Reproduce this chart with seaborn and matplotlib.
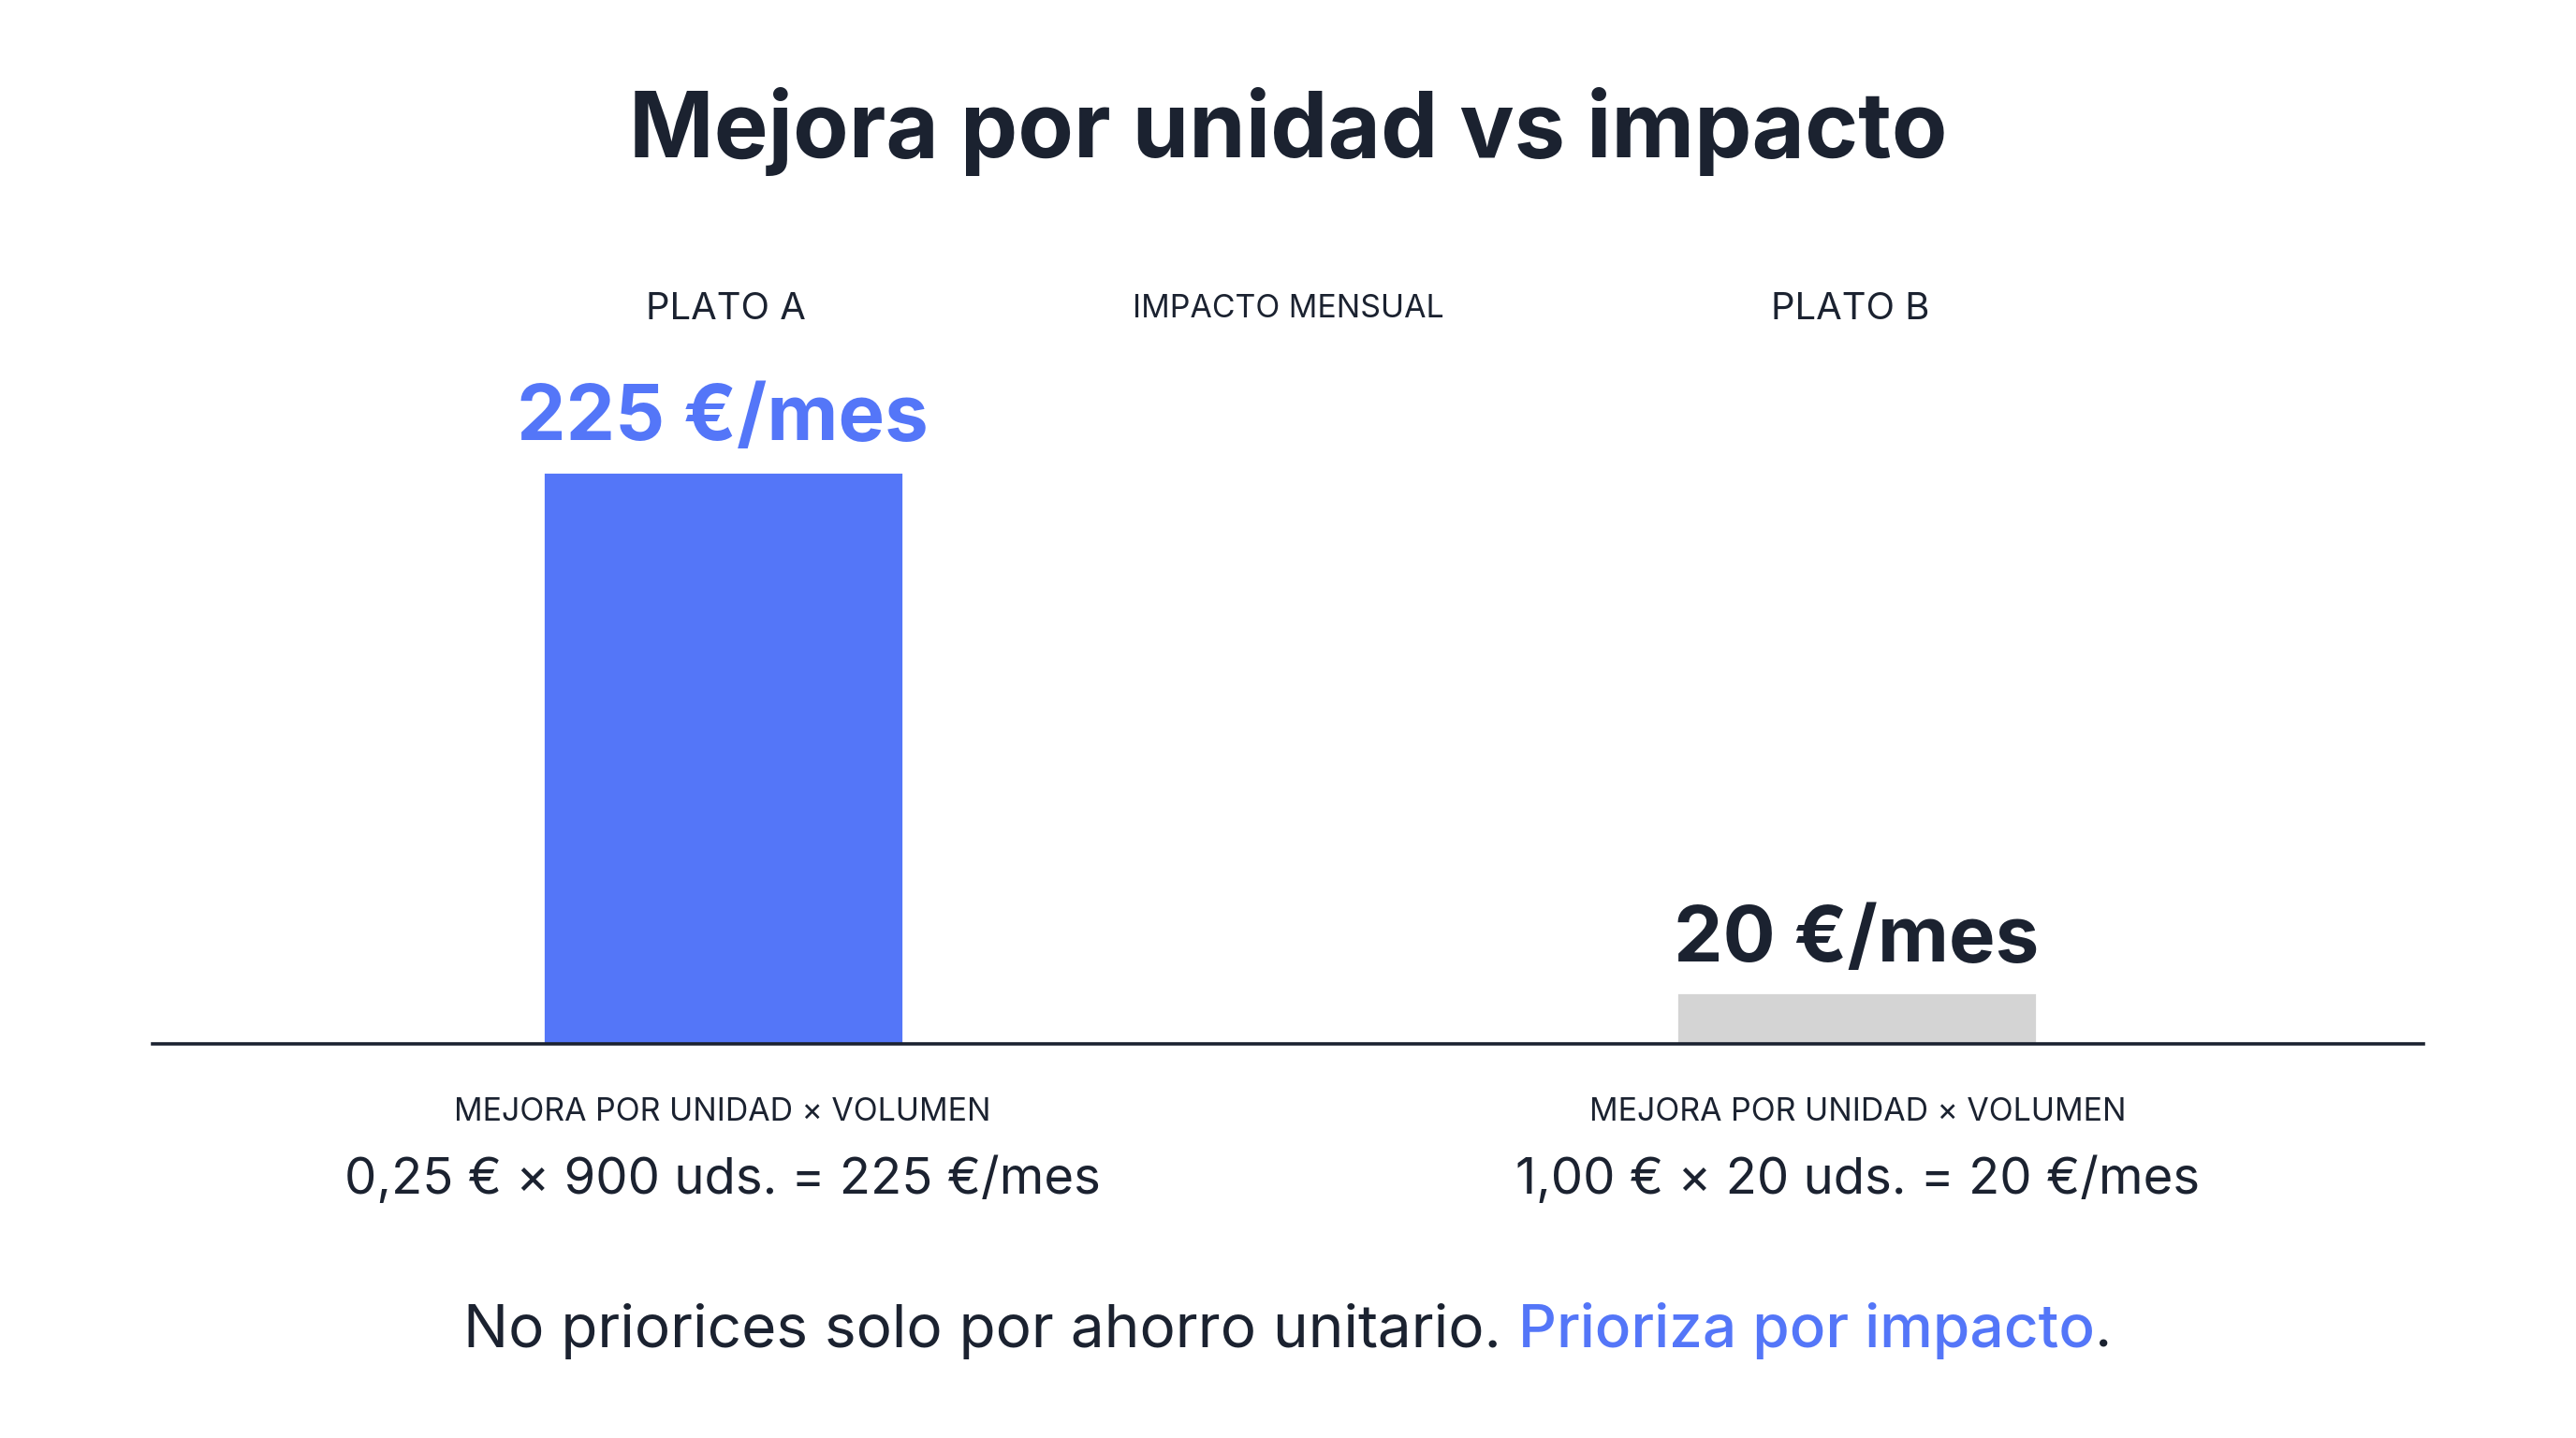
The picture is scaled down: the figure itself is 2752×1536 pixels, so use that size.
import matplotlib
matplotlib.use('Agg')
import matplotlib.pyplot as plt
import seaborn as sns
import pandas as pd

# datos
platos = ['PLATO A', 'PLATO B']
impacto = [225, 20]
mejora_unidad = ['0,25 €', '1,00 €']
volumen = ['900 uds.', '20 uds.']
etiquetas = ['225 €/mes', '20 €/mes']

AZUL = '#5476F8'
GRIS = '#D4D4D4'
OSCURO = '#1B2230'

sns.set_theme(style='white')
plt.rcParams['font.family'] = ['Inter', 'DejaVu Sans']

df = pd.DataFrame({'plato': platos, 'impacto': impacto})

fig = plt.figure(figsize=(13.76, 7.68), dpi=200)
fig.patch.set_facecolor('white')
ax = fig.add_axes([0.0593, 0.2743, 0.8814, 0.5543])

sns.barplot(data=df, x='plato', y='impacto', hue='plato',
            palette=[AZUL, GRIS], width=0.318, legend=False, ax=ax,
            saturation=1)

ax.set_xlim(-0.503, 1.5)
ax.set_ylim(0, 225 * (635 - 150) / 348)
sns.despine(ax=ax, left=True, top=True, right=True)
ax.spines['bottom'].set_color(OSCURO)
ax.spines['bottom'].set_linewidth(1.3)
ax.set_xticks([])
ax.set_yticks([])
ax.set_xlabel('')
ax.set_ylabel('')
ax.set_facecolor('white')

# etiquetas de valor
colores_val = [AZUL, OSCURO]
for i, (v, lab) in enumerate(zip(impacto, etiquetas)):
    ax.annotate(lab, xy=(i, v), xytext=(0, 12), textcoords='offset points',
                ha='center', va='baseline', fontsize=30, fontweight='bold',
                color=colores_val[i])

# cabeceras
xs_fig = [442 / 1568, 1126 / 1568]
for x, p in zip(xs_fig, platos):
    fig.text(x, 1 - 188 / 875, p, ha='center', va='center', fontsize=14.4, color=OSCURO)
fig.text(784 / 1568, 1 - 188 / 875, 'IMPACTO MENSUAL', ha='center', va='center',
         fontsize=12.2, color=OSCURO)

# titulo
fig.text(0.5, 1 - 80 / 875, 'Mejora por unidad vs impacto', ha='center', va='center',
         fontsize=35, fontweight='bold', color=OSCURO)

# formulas debajo
xs_form = [440 / 1568, 1131 / 1568]
for x, m, vol, lab in zip(xs_form, mejora_unidad, volumen, etiquetas):
    fig.text(x, 1 - 677 / 875, 'MEJORA POR UNIDAD × VOLUMEN', ha='center', va='center',
             fontsize=12.2, color=OSCURO)
    fig.text(x, 1 - 718 / 875, f'{m} × {vol} = {lab}', ha='center', va='center',
             fontsize=19.6, color=OSCURO)

# pie con dos colores
partes = [('No priorices solo por ahorro unitario. ', OSCURO, 'normal'),
          ('Prioriza por impacto', AZUL, 'medium'),
          ('.', OSCURO, 'normal')]
renderer = fig.canvas.get_renderer()
textos = []
for s, c, w in partes:
    t = fig.text(0, 1 - 810 / 875, s, ha='left', va='center', fontsize=23,
                 color=c, fontweight=w)
    textos.append(t)
anchos = [t.get_window_extent(renderer).width for t in textos]
fig_w = fig.get_size_inches()[0] * fig.dpi
x0 = (fig_w - sum(anchos)) / 2
for t, w in zip(textos, anchos):
    t.set_x(x0 / fig_w)
    x0 += w

fig.savefig('out.png', dpi=200, facecolor='white')
